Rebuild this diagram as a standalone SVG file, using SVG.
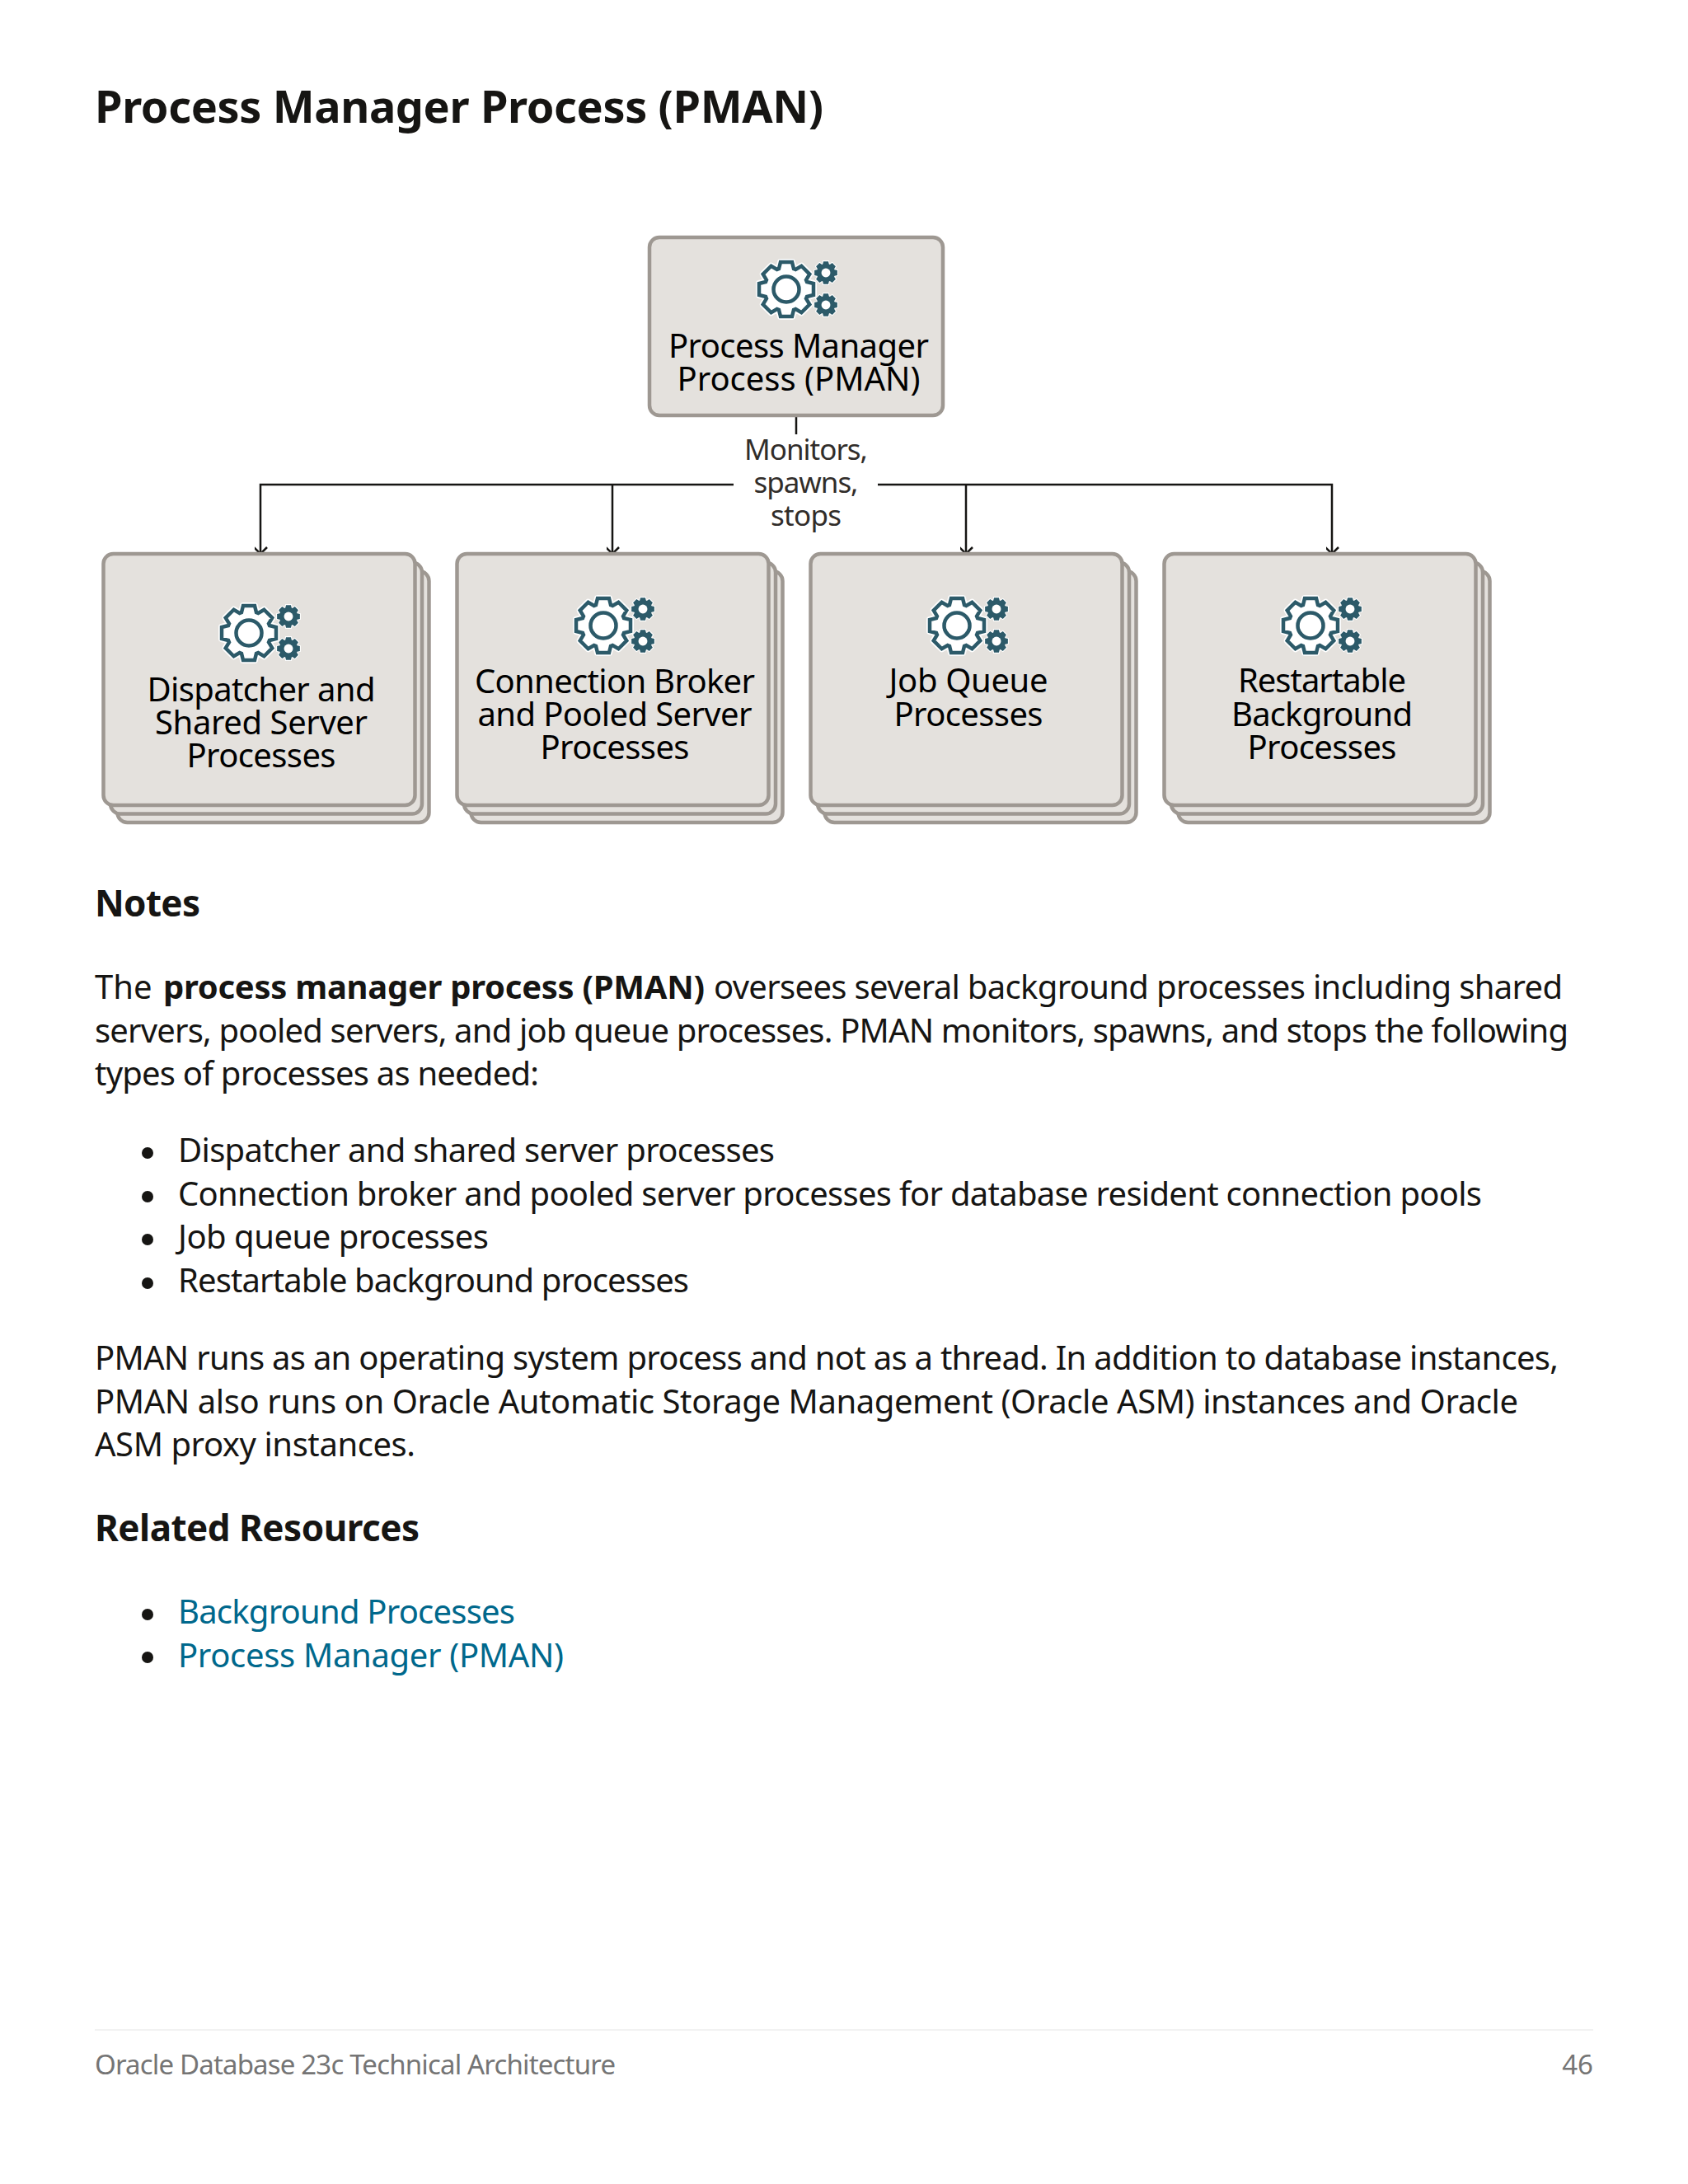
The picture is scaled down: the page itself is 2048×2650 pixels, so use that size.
<svg xmlns="http://www.w3.org/2000/svg" width="2048" height="2650" viewBox="0 0 2048 2650">
<style>
text{font-family:"Noto Sans","Open Sans",sans-serif;fill:#161513}
.h1{font-size:54px;font-weight:700}
.h2{font-size:44px;font-weight:700}
.b{font-size:40px}
.bb{font-weight:700}
.lnk{fill:#00688c}
.ft{font-size:33px;fill:#757575}
.n{font-size:40px;text-anchor:middle;fill:#000}
.lab{font-size:35px;text-anchor:middle;fill:#312d2a}
.box{fill:#e4e1dd;stroke:#9e9892;stroke-width:4.500}
.conn{fill:none;stroke:#161513;stroke-width:2.500}
</style>
<defs>
<marker id="arr" markerWidth="20" markerHeight="20" refX="9" refY="13" orient="auto" markerUnits="userSpaceOnUse" viewBox="0 0 20 20"><path d="M1 5 L9 13 L17 5" transform="rotate(-90 9 13)" fill="none" stroke="#161513" stroke-width="2.500"/></marker>
<polygon id="g" points="-9,-25 -7,-33 7,-33 9,-25 11.31,-24.04 18.38,-28.28 28.28,-18.38 24.04,-11.31 25,-9 33,-7 33,7 25,9 24.04,11.31 28.28,18.38 18.38,28.28 11.31,24.04 9,25 7,33 -7,33 -9,25 -11.31,24.04 -18.38,28.28 -28.28,18.38 -24.04,11.31 -25,9 -33,7 -33,-7 -25,-9 -24.04,-11.31 -28.28,-18.38 -18.38,-28.28 -11.31,-24.04"/>
<g id="gears">
<use href="#g" fill="#fff" stroke="#fff" stroke-width="8" stroke-linejoin="round"/>
<use href="#g" fill="#fff" stroke="#2c5a69" stroke-width="4.500"/>
<circle r="15.500" fill="#fff" stroke="#2c5a69" stroke-width="4.500"/>
<g transform="translate(48,-20) scale(.42)"><use href="#g" fill="#2c5a69" stroke="#fff" stroke-width="5" paint-order="stroke"/><circle r="13" fill="#fff"/></g>
<g transform="translate(48,19) scale(.42)"><use href="#g" fill="#2c5a69" stroke="#fff" stroke-width="5" paint-order="stroke"/><circle r="13" fill="#fff"/></g>
</g>
<g id="stack">
<rect class="box" x="17" y="21" width="378" height="305" rx="12"/>
<rect class="box" x="8.500" y="10.500" width="378" height="305" rx="12"/>
<rect class="box" x="0" y="0" width="378" height="305" rx="12"/>
</g>
</defs>
<rect width="2048" height="2650" fill="#fff"/>
<text class="h1" x="115" y="149" textLength="884">Process Manager Process (PMAN)</text>
<g id="connectors">
<path class="conn" d="M966 505V527"/>
<path class="conn" d="M890 588H316V672" marker-end="url(#arr)"/>
<path class="conn" d="M743 588V672" marker-end="url(#arr)"/>
<path class="conn" d="M1065 588H1616V672" marker-end="url(#arr)"/>
<path class="conn" d="M1172 588V672" marker-end="url(#arr)"/>
<text class="lab" x="978" y="558" textLength="150">Monitors,</text>
<text class="lab" x="978" y="598" textLength="127">spawns,</text>
<text class="lab" x="978" y="638" textLength="86">stops</text>
</g>
<g id="node-pman">
<rect class="box" x="788" y="288" width="356" height="216" rx="12"/>
<use href="#gears" x="954" y="351"/>
<text class="n" x="969" y="434" textLength="316">Process Manager</text>
<text class="n" x="969" y="474" textLength="295">Process (PMAN)</text>
</g>
<g id="node-dispatcher">
<use href="#stack" x="125.500" y="672"/>
<use href="#gears" x="302" y="768"/>
<text class="n" x="317" y="851" textLength="277">Dispatcher and</text>
<text class="n" x="317" y="891" textLength="258">Shared Server</text>
<text class="n" x="317" y="931" textLength="181">Processes</text>
</g>
<g id="node-broker">
<use href="#stack" x="554.500" y="672"/>
<use href="#gears" x="732" y="759"/>
<text class="n" x="746" y="841" textLength="340">Connection Broker</text>
<text class="n" x="746" y="881" textLength="333">and Pooled Server</text>
<text class="n" x="746" y="921" textLength="181">Processes</text>
</g>
<g id="node-jobqueue">
<use href="#stack" x="983.500" y="672"/>
<use href="#gears" x="1161" y="759"/>
<text class="n" x="1175" y="840" textLength="193">Job Queue</text>
<text class="n" x="1175" y="881" textLength="181">Processes</text>
</g>
<g id="node-restartable">
<use href="#stack" x="1412.500" y="672"/>
<use href="#gears" x="1590" y="759"/>
<text class="n" x="1604" y="840" textLength="204">Restartable</text>
<text class="n" x="1604" y="881" textLength="220">Background</text>
<text class="n" x="1604" y="921" textLength="181">Processes</text>
</g>
<text class="h2" x="115" y="1112" textLength="128">Notes</text>
<text class="b" x="115" y="1212">The</text>
<text class="b bb" x="198" y="1212" textLength="657">process manager process (PMAN)</text>
<text class="b" x="866" y="1212" textLength="1030">oversees several background processes including shared</text>
<text class="b" x="115" y="1265" textLength="1788">servers, pooled servers, and job queue processes. PMAN monitors, spawns, and stops the following</text>
<text class="b" x="115" y="1317" textLength="539">types of processes as needed:</text>
<g fill="#161513"><circle cx="179" cy="1399" r="7"/><circle cx="179" cy="1452" r="7"/><circle cx="179" cy="1504" r="7"/><circle cx="179" cy="1557" r="7"/><circle cx="179" cy="1959" r="7"/><circle cx="179" cy="2011" r="7"/></g>
<text class="b" x="216" y="1410" textLength="724">Dispatcher and shared server processes</text>
<text class="b" x="216" y="1463" textLength="1582">Connection broker and pooled server processes for database resident connection pools</text>
<text class="b" x="216" y="1515" textLength="377">Job queue processes</text>
<text class="b" x="216" y="1568" textLength="620">Restartable background processes</text>
<text class="b" x="115" y="1662" textLength="1776">PMAN runs as an operating system process and not as a thread. In addition to database instances,</text>
<text class="b" x="115" y="1715" textLength="1727">PMAN also runs on Oracle Automatic Storage Management (Oracle ASM) instances and Oracle</text>
<text class="b" x="115" y="1767" textLength="389">ASM proxy instances.</text>
<text class="h2" x="115" y="1870" textLength="394">Related Resources</text>
<text class="b lnk" x="216" y="1970" textLength="409">Background Processes</text>
<text class="b lnk" x="216" y="2023" textLength="468">Process Manager (PMAN)</text>
<path d="M115 2463H1933" stroke="#f2f2f2" stroke-width="2"/>
<text class="ft" x="115" y="2517" textLength="632">Oracle Database 23c Technical Architecture</text>
<text class="ft" x="1933" y="2517" text-anchor="end">46</text>
</svg>
